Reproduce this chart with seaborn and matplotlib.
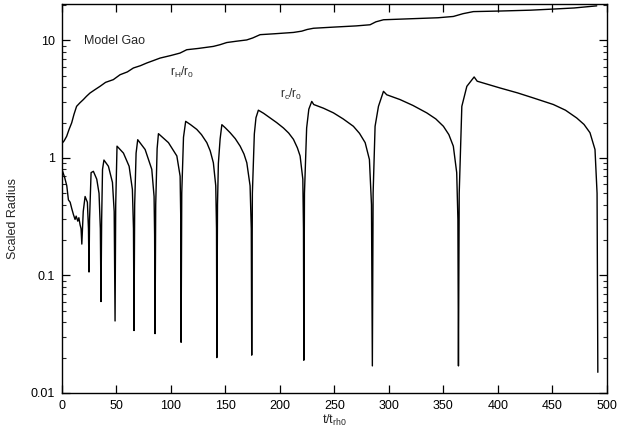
import matplotlib
matplotlib.use("Agg")
import matplotlib.pyplot as plt
import matplotlib.ticker as mticker
import seaborn as sns
import pandas as pd

# Half-mass radius r_h/r_0
t_half = [0, 2.0, 4.3, 6.5, 8.9, 11.0, 13.4, 16.5, 19.6, 22.5, 25.7, 30, 34.9, 40,
          47.1, 53.3, 60, 65.5, 72, 77.8, 84, 90, 100, 108.3, 114.5, 125, 138.9,
          145, 151.2, 160, 169.5, 175, 181.8, 195, 212.4, 220, 225, 230.8, 250,
          270, 282.7, 288, 295, 320, 345, 359.1, 368, 377.5, 402, 430, 450.9,
          470, 490.7]
r_half = [1.33, 1.40, 1.53, 1.75, 1.99, 2.35, 2.75, 2.95, 3.14, 3.35, 3.57, 3.80,
          4.07, 4.40, 4.64, 5.11, 5.40, 5.83, 6.10, 6.43, 6.75, 7.08, 7.45, 7.81,
          8.34, 8.55, 8.9, 9.2, 9.6, 9.85, 10.1, 10.5, 11.2, 11.4, 11.7, 12.0,
          12.4, 12.7, 13.0, 13.3, 13.6, 14.4, 15.0, 15.3, 15.6, 16.0, 16.9, 17.6,
          17.8, 18.1, 18.5, 18.9, 19.7]

# Core radius r_c/r_0
t_core = [0, 2.5, 4.4, 5.9, 7.5, 9, 10.5, 12, 13, 14.5, 15.5, 16.6, 17.5, 18.2,
          19.5, 21.2, 23.3, 24.3, 24.8, 25.3, 26.7, 28.8, 31.9, 34, 35.2, 35.8,
          36.4, 37.2, 38.5, 42.6, 46.3, 47.9, 48.7, 49.3, 50.5, 56.4, 61.6,
          64.6, 65.6, 66.1, 66.7, 68, 69.5, 76.3, 82.4, 84.5, 85.0, 85.4, 86.0,
          87.3, 88.5, 97.7, 105.4, 108.4, 109.0, 109.3, 109.9, 111.5, 113.5,
          118, 123.7, 128, 132.9, 136, 138.9, 141.1, 141.8, 142.1, 142.7, 143.5,
          145.1, 146.7, 150, 154.3, 159, 163.5, 167, 169.6, 172.6, 173.7, 174.1,
          174.7, 176.5, 178.0, 180.2, 185, 191, 197, 203.2, 208, 212.4, 216,
          218.5, 221.0, 221.6, 221.9, 222.5, 224.5, 226.5, 229.2, 231, 240,
          249.1, 258, 267.4, 273, 278.2, 282.1, 284.0, 284.8, 285.5, 287.3,
          290.4, 295.0, 298, 310.2, 322, 334.7, 343, 350, 355, 359.1, 362.2,
          363.3, 363.8, 364.5, 366.9, 371.5, 378.2, 381, 390, 402, 418, 432.6,
          450.9, 462, 472.3, 479, 484.5, 489.1, 491.0, 491.7]
r_core = [0.80, 0.68, 0.58, 0.44, 0.42, 0.37, 0.33, 0.30, 0.32, 0.29, 0.31, 0.27,
          0.25, 0.185, 0.35, 0.47, 0.42, 0.25, 0.107, 0.3, 0.75, 0.77, 0.66,
          0.50, 0.25, 0.060, 0.3, 0.8, 0.96, 0.85, 0.62, 0.35, 0.041, 0.4, 1.26,
          1.10, 0.85, 0.54, 0.25, 0.034, 0.4, 1.1, 1.43, 1.18, 0.80, 0.47, 0.22,
          0.032, 0.4, 1.2, 1.61, 1.35, 1.04, 0.70, 0.30, 0.027, 0.5, 1.5, 2.05,
          1.92, 1.75, 1.58, 1.35, 1.15, 0.91, 0.58, 0.25, 0.020, 0.4, 0.9,
          1.45, 1.92, 1.80, 1.64, 1.46, 1.26, 1.08, 0.91, 0.58, 0.25, 0.021,
          0.5, 1.6, 2.2, 2.55, 2.40, 2.19, 2.00, 1.80, 1.63, 1.44, 1.22,
          1.04, 0.66, 0.25, 0.019, 0.5, 1.8, 2.6, 3.03, 2.85, 2.65, 2.42, 2.15,
          1.86, 1.62, 1.35, 0.97, 0.4, 0.017, 0.5, 1.86, 2.75, 3.69, 3.45, 3.14,
          2.80, 2.42, 2.15, 1.86, 1.58, 1.26, 0.75, 0.3, 0.017, 0.5, 2.75, 4.07,
          4.89, 4.5, 4.25, 3.94, 3.58, 3.24, 2.85, 2.55, 2.19, 1.93, 1.64, 1.18,
          0.5, 0.015]

x_ticks = [0, 50, 100, 150, 200, 250, 300, 350, 400, 450, 500]
y_ticks = [0.01, 0.1, 1, 10]
y_tick_labels = ["0.01", "0.1", "1", "10"]

sns.set_style("ticks")
plt.rcParams["font.family"] = ["Liberation Sans", "DejaVu Sans"]
plt.rcParams["mathtext.default"] = "regular"

fig = plt.figure(figsize=(6.18, 4.32), dpi=100)
ax = fig.add_axes([0.1003, 0.0903, 0.8817, 0.8997])

df_h = pd.DataFrame({"t": t_half, "r": r_half})
df_c = pd.DataFrame({"t": t_core, "r": r_core})
sns.lineplot(data=df_h, x="t", y="r", ax=ax, color="black", lw=1.0,
             estimator=None, sort=False)
sns.lineplot(data=df_c, x="t", y="r", ax=ax, color="black", lw=1.0,
             estimator=None, sort=False)

ax.set_yscale("log")
ax.set_xlim(0, 500)
ax.set_ylim(0.01, 20.3)
ax.set_xticks(x_ticks)
ax.set_xticklabels([str(v) for v in x_ticks])
ax.set_yticks(y_ticks)
ax.set_yticklabels(y_tick_labels)
ax.yaxis.set_minor_locator(mticker.LogLocator(base=10, subs=range(2, 10)))
ax.yaxis.set_minor_formatter(mticker.NullFormatter())

ax.tick_params(axis="both", which="major", direction="in", length=6, width=0.9,
               top=True, right=True, labelsize=9, colors="black", pad=5)
ax.tick_params(axis="y", which="minor", direction="in", length=3, width=0.8,
               left=True, right=True)
for s in ax.spines.values():
    s.set_linewidth(1.0)
    s.set_color("black")

ax.set_xlabel("t/t$_{rh0}$", fontsize=9, labelpad=1)
ax.set_ylabel("Scaled Radius", fontsize=9)
ax.yaxis.set_label_coords(-0.078, 0.45)

ax.text(20, 9.9, "Model Gao", fontsize=9, ha="left", va="center")
ax.text(99, 5.3, "r$_H$/r$_0$", fontsize=8.5, ha="left", va="center")
ax.text(200, 3.5, "r$_c$/r$_0$", fontsize=8.5, ha="left", va="center")

fig.savefig("out.png", dpi=100)
